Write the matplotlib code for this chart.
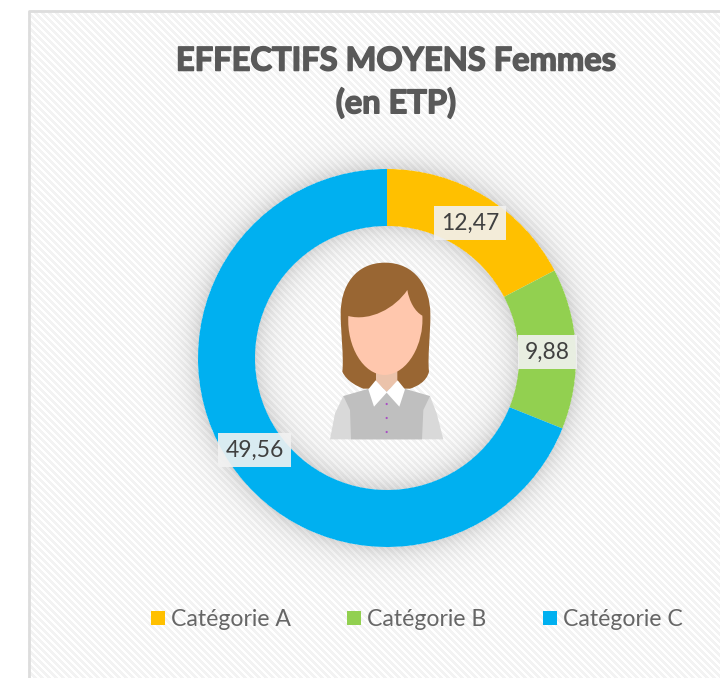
import numpy as np
from matplotlib import pyplot as plt
from matplotlib import patheffects as pe
from matplotlib.patches import Circle, PathPatch, Rectangle
from matplotlib.path import Path

W, H = 720, 678

categories = ["Catégorie A", "Catégorie B", "Catégorie C"]
values = [12.47, 9.88, 49.56]
value_labels = ["12,47", "9,88", "49,56"]
colors = ["#FFC000", "#92D050", "#00B0F0"]
title_lines = ["EFFECTIFS MOYENS Femmes", "(en ETP)"]

plt.rcParams["font.family"] = ["Lato", "DejaVu Sans"]

fig = plt.figure(figsize=(W / 100, H / 100), dpi=100)
ax = fig.add_axes([0, 0, 1, 1])
ax.set_xlim(0, W)
ax.set_ylim(0, H)
ax.axis("off")

cx, cy = 387, H - 358
r_out, r_in = 189, 132

# striped panel background
xx, yy = np.meshgrid(np.arange(W), np.arange(H))
bg = np.where((xx - yy) % 7 < 3.5, 0.95, 1.0)
bg[:10, :] = 1.0
bg[:, :28] = 1.0
ax.imshow(bg, cmap="gray", vmin=0, vmax=1, extent=(0, W, 0, H), origin="upper",
          aspect="auto", zorder=0, interpolation="nearest")
ax.plot([28.5, 28.5, W], [0, H - 10.5, H - 10.5], color="#DDDDDD", lw=2, zorder=1)

# soft shadow around the ring
dist = np.hypot(xx + 0.5 - cx, (H - yy - 0.5) - cy)
alpha = np.zeros_like(dist)
alpha = np.where(dist > r_out, 0.22 * np.exp(-(dist - r_out) / 13.0), alpha)
alpha = np.where(dist < r_in, 0.22 * np.exp(-(r_in - dist) / 14.0), alpha)
shadow = np.zeros((H, W, 4))
shadow[..., :3] = 0.35
shadow[..., 3] = alpha
ax.imshow(shadow, extent=(0, W, 0, H), origin="upper", aspect="auto", zorder=1)

# donut
wedges, _ = ax.pie(values, colors=colors, startangle=90, counterclock=False,
                   radius=r_out, center=(cx, cy), frame=True,
                   wedgeprops={"width": r_out - r_in, "linewidth": 0})
for w in wedges:
    w.set_zorder(2)
ax.set_xlim(0, W)
ax.set_ylim(0, H)
ax.set_aspect("auto")
ax.axis("off")

# value labels, moved by hand in the original
label_pos = [(470, 222), (547.5, 351), (254.5, 449)]
for txt, (x, y) in zip(value_labels, label_pos):
    ax.text(x, H - y - 1, txt, fontsize=16.5, color="#404040", ha="center", va="center",
            zorder=6, bbox={"boxstyle": "square,pad=0.3", "fc": "#F2F2F2", "ec": "none", "alpha": 0.9})

title_y = [61, 103]
thick = [pe.withStroke(linewidth=1.1, foreground="#595959")]
for line, y in zip(title_lines, title_y):
    ax.text(396, H - y, line, fontsize=23.5, fontweight="bold", color="#595959",
            ha="center", va="center", zorder=6, path_effects=thick)

# legend
legend_x = [151, 347, 543]
for name, col, x in zip(categories, colors, legend_x):
    ax.add_patch(Rectangle((x, H - 625), 14, 14, fc=col, ec="none", zorder=6))
    ax.text(x + 20, H - 619, name, fontsize=16.6, fontweight="normal", color="#666666",
            ha="left", va="center", zorder=6)


# illustration, coordinates measured in a crop at (320, 250), scale 3
def z(pts):
    return [(320 + px / 3, H - (250 + py / 3)) for px, py in pts]


def shape(pts, codes, color, zorder=3):
    path = Path(z(pts), codes)
    ax.add_patch(PathPatch(path, fc=color, ec="none", zorder=zorder))


M, L, C, X = Path.MOVETO, Path.LINETO, Path.CURVE4, Path.CLOSEPOLY

# sleeves
shape([(70, 438), (45, 490), (30, 568), (370, 568), (350, 490), (330, 438), (70, 438)],
      [M, L, L, L, L, L, X], "#D9D9D9")
# vest
shape([(70, 438), (150, 415), (250, 415), (330, 438), (310, 480), (306, 568), (93, 568),
       (90, 480), (70, 438)], [M, L, L, L, L, L, L, L, X], "#BFBFBF")
# hair back
shape([(195, 38), (105, 38), (62, 110), (62, 190),
       (62, 250), (72, 320), (67, 365),
       (80, 395), (115, 410), (130, 416),
       (150, 416), (250, 416), (270, 416),
       (290, 410), (320, 395), (327, 365),
       (322, 320), (332, 250), (331, 190),
       (330, 110), (285, 38), (195, 38), (195, 38)],
      [M, C, C, C, C, C, C, C, C, C, C, C, C, C, C, C, C, C, C, C, C, C, X], "#996633")
# neck
shape([(168, 360), (232, 360), (232, 395), (200, 425), (168, 395), (168, 360)],
      [M, L, L, L, L, X], "#EBC3AB")
# collar
shape([(167, 391), (200, 426), (233, 391), (255, 418), (238, 470), (200, 428), (162, 470),
       (145, 418), (167, 391)], [M, L, L, L, L, L, L, L, X], "#FFFFFF", 4)
# face
shape([(85, 198),
       (150, 215), (225, 175), (262, 120),
       (268, 155), (285, 185), (307, 197),
       (312, 280), (265, 372), (195, 375),
       (130, 375), (80, 290), (85, 198), (85, 198)],
      [M, C, C, C, C, C, C, C, C, C, C, C, C, X], "#FFC7AD", 4)
# buttons
for by in [462, 504, 546]:
    ax.add_patch(Circle(z([(200, by)])[0], 1.1, fc="#A94FC4", ec="none", zorder=5))

fig.savefig("out.png", dpi=100)
